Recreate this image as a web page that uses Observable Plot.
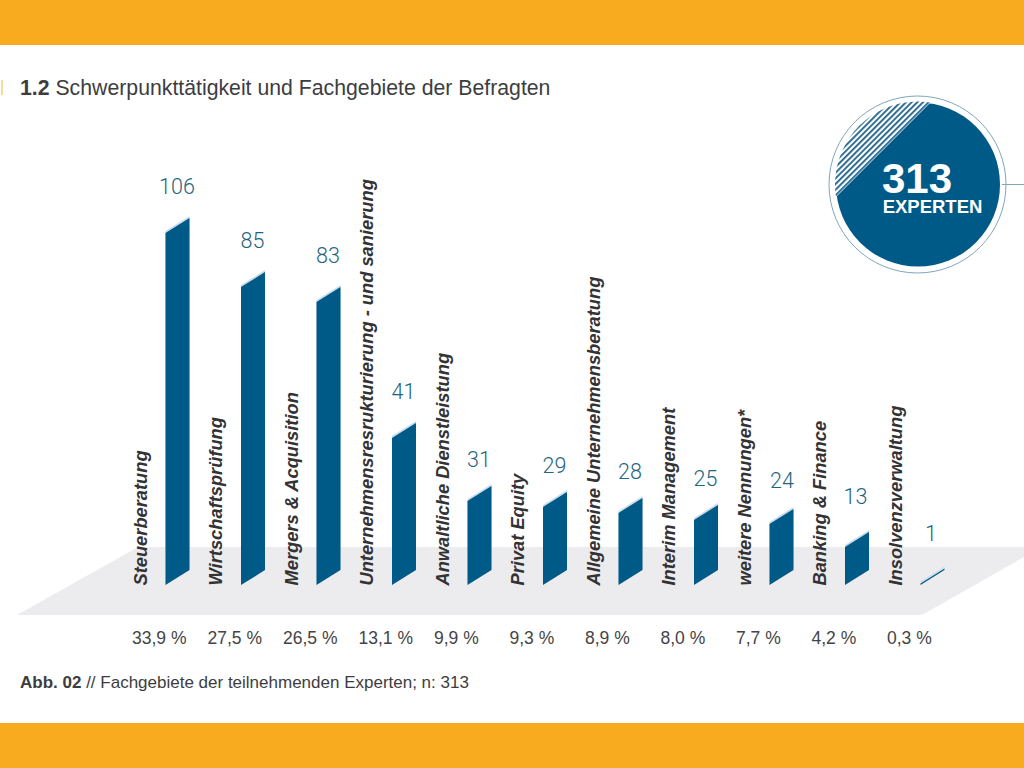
<!DOCTYPE html>
<html lang="de">
<head>
<meta charset="utf-8">
<script src="https://cdn.jsdelivr.net/npm/d3@7"></script>
<script src="https://cdn.jsdelivr.net/npm/@observablehq/plot@0.6"></script>
<style>
html,body{margin:0;padding:0;background:#fff;overflow:hidden}
#page{position:relative;width:1024px;height:768px;font-family:"Liberation Sans",Arial,sans-serif;color:#3d3d3f;overflow:hidden}
.band{position:absolute;left:0;width:1024px;height:45px;background:#f9ab20}
#title{position:absolute;left:20px;top:76px;font-size:21.25px;line-height:24px;white-space:nowrap}
#tick{position:absolute;left:1px;top:80px;width:2px;height:15px;background:#f4dc9c}
#caption{position:absolute;left:20px;top:674px;font-size:17px;line-height:18px;white-space:nowrap}
#deco,#plot{position:absolute;left:0;top:0}
#plot svg{display:block;background:transparent}
</style>
</head>
<body>
<div id="page">
  <div class="band" style="top:0"></div>
  <div class="band" style="top:723px"></div>
  <div id="tick"></div>
  <div id="title"><b>1.2</b> Schwerpunkttätigkeit und Fachgebiete der Befragten</div>
  <svg id="deco" width="1024" height="768" viewBox="0 0 1024 768">
    <defs>
      <clipPath id="disc"><circle cx="918" cy="184.5" r="83"/></clipPath>
      <pattern id="hatch" width="4" height="4" patternUnits="userSpaceOnUse" patternTransform="rotate(45)">
        <rect width="4" height="4" fill="#fff"/>
        <rect width="1.8" height="4" fill="#1f6289"/>
      </pattern>
    </defs>
    <polygon points="17,615 138,547 1024,547 1024,557 922,615" fill="#ececee"/>
    <circle cx="917.5" cy="184.5" r="88.5" fill="none" stroke="#7fa6b8" stroke-width="1"/>
    <line x1="1002" y1="184.5" x2="1024" y2="184.5" stroke="#7fa6b8" stroke-width="1"/>
    <circle cx="918" cy="184.5" r="82" fill="#005a87"/>
    <g clip-path="url(#disc)">
      <polygon points="829,96 937,96 829,204" fill="url(#hatch)"/>
    </g>
    <text x="917" y="193" text-anchor="middle" font-family="Liberation Sans" font-weight="700" font-size="42" fill="#fff">313</text>
    <text x="932.5" y="213" text-anchor="middle" font-family="Liberation Sans" font-weight="700" font-size="18.5" fill="#fff">EXPERTEN</text>
  </svg>
  <div id="plot"></div>
  <div id="caption"><b>Abb. 02</b> // Fachgebiete der teilnehmenden Experten; n: 313</div>
</div>
<script>
const categories = ["Steuerberatung","Wirtschaftsprüfung","Mergers & Acquisition","Unternehmensresrukturierung - und sanierung","Anwaltliche Dienstleistung","Privat Equity","Allgemeine Unternehmensberatung","Interim Management","weitere Nennungen*","Banking & Finance","Insolvenzverwaltung"];
const counts = [106,85,83,41,31,29,28,25,24,13,1];
const shares = ["33,9 %","27,5 %","26,5 %","13,1 %","9,9 %","9,3 %","8,9 %","8,0 %","7,7 %","4,2 %","0,3 %"];
// The source's bars are not strictly proportional: this maps count to the drawn height.
const scaleCounts = [0,1,13,24,25,28,29,31,41,83,85,106];
const scaleRange  = [585,583.5,547,524,520,513,507,501,438,302,287,233];

const rows = categories.map((name,i)=>({name,count:counts[i],share:shares[i]}));

function skew(index,scales,values,dimensions,context,next){
  const g = next(index,scales,values,dimensions,context);
  d3.select(g).selectAll("rect").attr("transform",function(){
    const x = +this.getAttribute("x");
    const y0 = +this.getAttribute("y") + +this.getAttribute("height");
    return `translate(${x} ${y0}) skewY(-32) translate(${-x} ${-y0})`;
  });
  return g;
}
const labelBase = {x:"name",y:"count",text:d=>String(d.count),fontSize:21.5,fill:"#1f6480",fontWeight:300,fontFamily:"Roboto"};

const chart = Plot.plot({
  width:1024,height:768,margin:0,
  style:{background:"transparent",fontFamily:"Liberation Sans, Arial, sans-serif",overflow:"visible"},
  x:{type:"band",domain:categories,range:[165.5,944.5],paddingInner:0.682,paddingOuter:0,round:false,axis:null},
  y:{type:"linear",domain:scaleCounts,range:scaleRange,axis:null},
  marks:[
    Plot.barY(rows,{x:"name",y:"count",fill:"#c9dcea",dy:-2,render:skew}),
    Plot.barY(rows,{x:"name",y:"count",fill:"#005a87",render:skew}),
    Plot.text(rows.filter(d=>d.count>=41),{...labelBase,dy:-46,dx:-1}),
    Plot.text(rows.filter(d=>d.count>=25&&d.count<41),{...labelBase,dy:-41,dx:-1}),
    Plot.text(rows.filter(d=>d.count===24),{...labelBase,dy:-43}),
    Plot.text(rows.filter(d=>d.count<24),{...labelBase,dy:-50,dx:-2}),
    Plot.text(rows,{x:"name",y:()=>0,text:"name",rotate:-90,textAnchor:"start",dx:-37,fontSize:18.3,fontWeight:700,fontStyle:"italic",fill:"#333335"}),
    Plot.text(rows,{x:"name",y:()=>0,text:"share",textAnchor:"start",dx:-46,dy:53,fontSize:17.5,fill:"#444446"})
  ]
});
document.getElementById("plot").appendChild(chart);
</script>
</body>
</html>
